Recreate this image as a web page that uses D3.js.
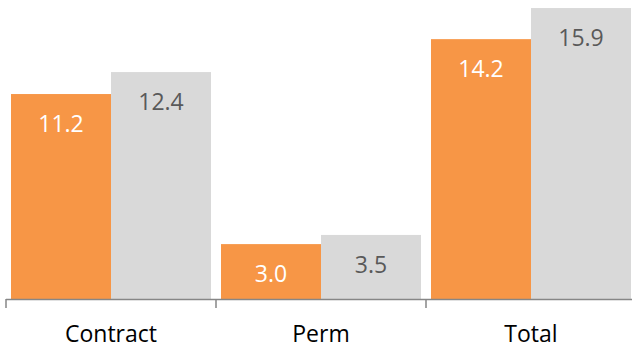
<!DOCTYPE html>
<html><head><meta charset="utf-8">
<script src="https://cdn.jsdelivr.net/npm/d3@7"></script>
<style>body{margin:0;background:#fff}svg{display:block}</style>
</head><body><svg id="c" width="632" height="350"></svg>
<script>
const categories = ["Contract", "Perm", "Total"];
const seriesNames = ["A", "B"];
const seriesA = [11.2, 3.0, 14.2];
const seriesB = [12.4, 3.5, 15.9];
const colors = ["#F79646", "#D9D9D9"];
const labelColors = ["#FFFFFF", "#595959"];

const svg = d3.select("#c");
const font = "'Open Sans', sans-serif";
const x = d3.scaleBand().domain(categories).range([6, 636]).paddingInner(0).paddingOuter(0);
const x1 = d3.scaleBand().domain(seriesNames).range([5, x.bandwidth() - 5]).paddingInner(0).paddingOuter(0);
const y = d3.scaleLinear().domain([0, 16]).range([299, 299 - 16 * 18.3]);

const data = categories.map((c, i) => ({c, vals: [seriesA[i], seriesB[i]]}));
const groups = svg.append("g").selectAll("g").data(data).join("g")
  .attr("transform", d => `translate(${x(d.c)},0)`);
seriesNames.forEach((s, j) => {
  groups.append("rect").attr("x", x1(s)).attr("y", d => y(d.vals[j]))
    .attr("width", x1.bandwidth()).attr("height", d => y(0) - y(d.vals[j])).attr("fill", colors[j]);
  groups.append("text").attr("x", x1(s) + x1.bandwidth() / 2).attr("y", d => y(d.vals[j]) + 38)
    .attr("text-anchor", "middle").attr("font-family", font).attr("font-size", 23)
    .attr("fill", labelColors[j]).text(d => d.vals[j].toFixed(1));
});

const ag = svg.append("g").attr("transform", "translate(0,299)");
ag.append("line").attr("x1", 6).attr("x2", 632).attr("y1", 0.5).attr("y2", 0.5)
  .attr("stroke", "#868686").attr("stroke-width", 1.5);
categories.forEach(c => {
  ag.append("line").attr("x1", x(c)).attr("x2", x(c)).attr("y1", 0).attr("y2", 9)
    .attr("stroke", "#868686").attr("stroke-width", 1.5);
  ag.append("text").attr("x", x(c) + x.bandwidth() / 2).attr("y", 43).attr("text-anchor", "middle")
    .attr("font-family", font).attr("font-size", 23).attr("fill", "#000").text(c);
});
</script></body></html>
